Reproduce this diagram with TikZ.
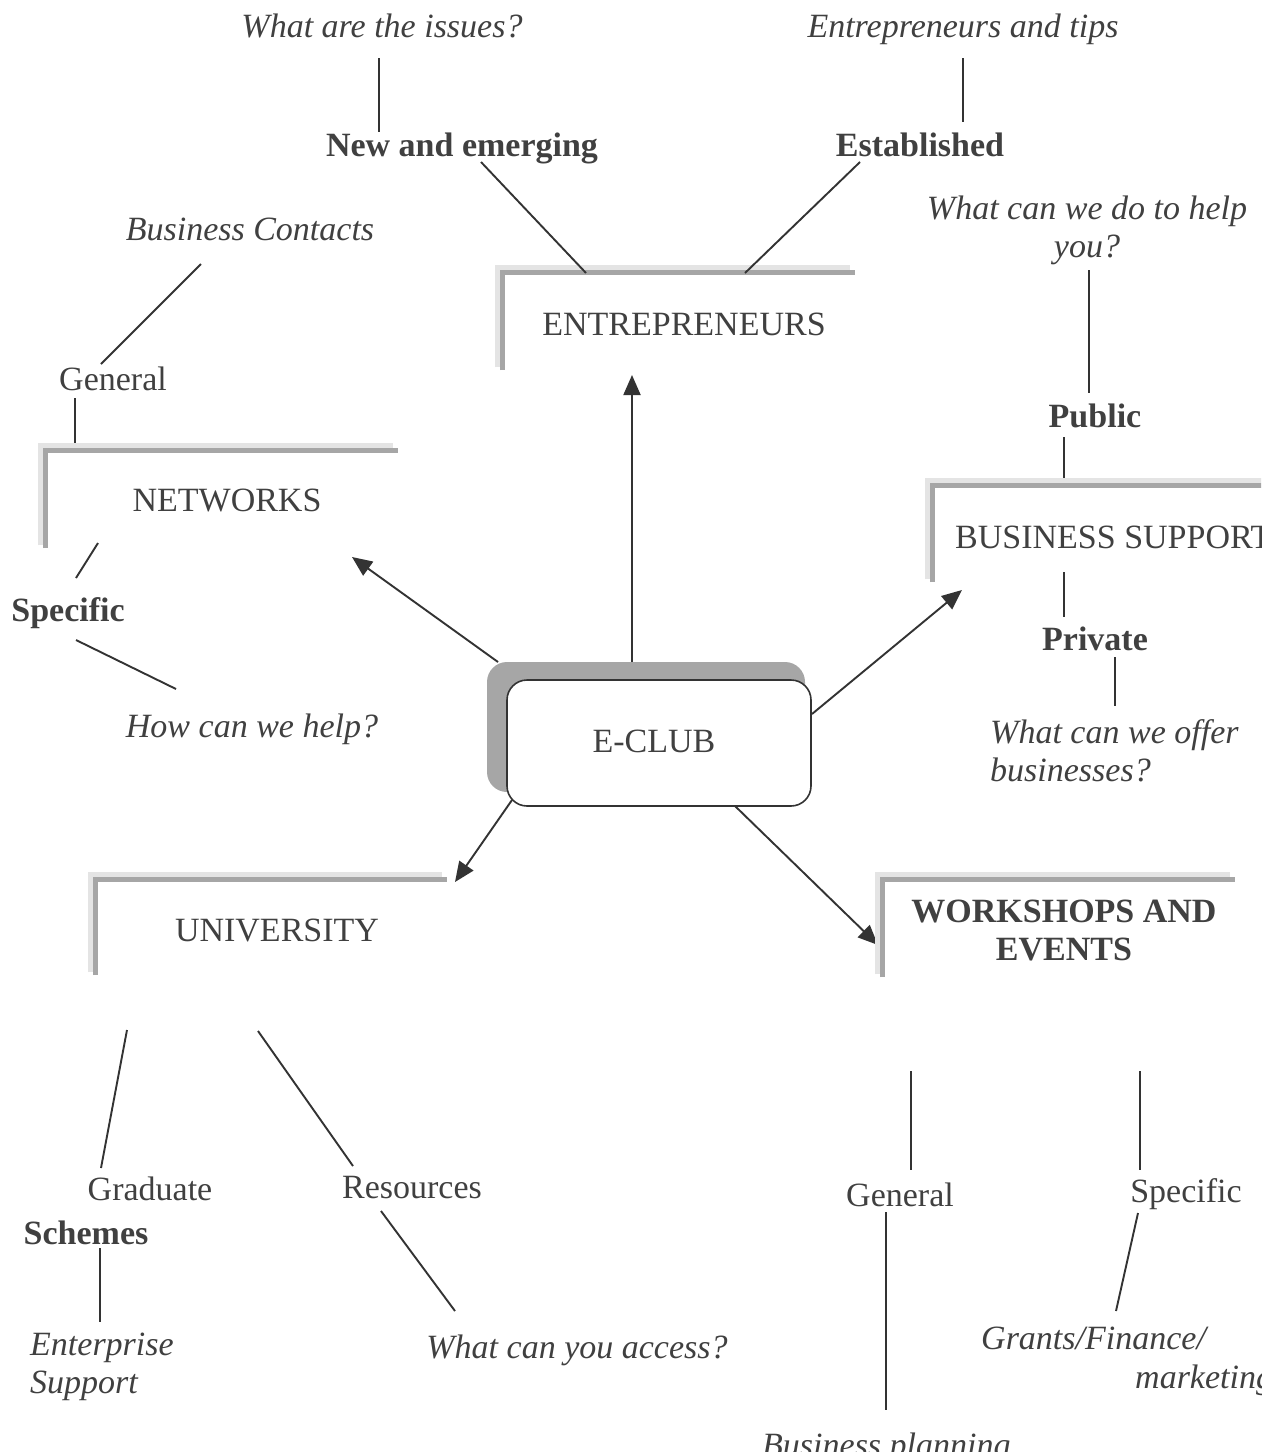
\documentclass[tikz,border=0pt]{standalone}
\usepackage{fontspec}
\setmainfont{Liberation Serif}
\usetikzlibrary{arrows.meta}
\definecolor{txt}{HTML}{404040}
\definecolor{ln}{HTML}{333333}
\definecolor{brk}{HTML}{A6A6A6}
\definecolor{brkl}{HTML}{E4E4E4}
\tikzset{
  lbl/.style={text=txt, inner sep=0pt, font=\fontsize{34}{38}\selectfont, align=center},
  one/.style={text height=26pt, text depth=5pt},
  it/.style={lbl, font=\fontsize{34}{38}\selectfont\itshape},
  bf/.style={lbl, font=\fontsize{34}{38}\selectfont\bfseries},
  conn/.style={draw=ln, line width=1.9pt},
  arr/.style={draw=ln, line width=1.9pt, -{Triangle[length=20pt,width=17pt]}, fill=ln},
}
\newcommand{\brkt}[4]{% x y right bottom
  \draw[brkl, line width=5pt] (#1-5,#4-3) -- (#1-5,#2-5) -- (#3-5,#2-5);
  \draw[brk, line width=5pt] (#1,#4) -- (#1,#2) -- (#3,#2);
}
\begin{document}
\begin{tikzpicture}[x=1pt,y=-1pt]
\useasboundingbox[fill=white] (0,0) rectangle (1273,1452);
\clip (0,0) rectangle (1261,1452);

% ENTREPRENEURS
\node[it,one] (q1) at (382,27) {What are the issues?};
\node[bf,one] (ne) at (462,146) {New and emerging};
\node[it,one] (q2) at (963,27) {Entrepreneurs and tips};
\node[bf,one] (est) at (920,146) {Established};
\draw[conn] (379,58) -- (379,132);
\draw[conn] (963,58) -- (963,122);
\brkt{502.5}{272.5}{855}{370}
\draw[conn] (481,162) -- (586,273);
\draw[conn] (860,162) -- (745,273);
\node[lbl,one] (ent) at (684,325) {ENTREPRENEURS};

% BUSINESS SUPPORT
\node[it] (q3) at (1087,230) {What can we do to help\\you?};
\draw[conn] (1089,270) -- (1089,393);
\node[bf,one] (pub) at (1095,417) {Public};
\draw[conn] (1064,437) -- (1064,487);
\brkt{932.5}{485.5}{1270}{582}
\node[lbl,one, anchor=west] (bs) at (955,538) {BUSINESS SUPPORT};
\draw[conn] (1064,572) -- (1064,617);
\node[bf,one] (priv) at (1095,640) {Private};
\draw[conn] (1115,657) -- (1115,706);
\node[it, anchor=west, align=left] (q4) at (990,751) {What can we offer\\businesses?};

% NETWORKS
\node[it,one] (q5) at (250,230) {Business Contacts};
\draw[conn] (201,264) -- (101,364);
\node[lbl,one] (gen1) at (113,380) {General};
\draw[conn] (75,398) -- (75,450);
\brkt{45.5}{450.5}{398}{548}
\node[lbl,one] (net) at (227,501) {NETWORKS};
\draw[conn] (98,543) -- (76,578);
\node[bf,one] (spec1) at (68,611) {Specific};
\draw[conn] (76,640) -- (176,689);
\node[it,one] (q6) at (252,727) {How can we help?};

% E-CLUB
\fill[brk, rounded corners=20pt] (487,662) rectangle (805,792);
\node[draw=ln, fill=white, line width=1.6pt, rounded corners=20pt,
      minimum width=304pt, minimum height=126pt, inner sep=0pt] (eclub) at (659,743) {};
\node[lbl,one] (eclubt) at (654,742) {E-CLUB};

% arrows
\draw[arr] (632,662) -- (632,375);
\draw[arr] (498,662) -- (352,557);
\draw[arr] (812,714) -- (962,590);
\draw[arr] (512,800) -- (455,882);
\draw[arr] (735,806) -- (878,945);

% UNIVERSITY
\brkt{95.5}{879.5}{447}{975}
\node[lbl,one] (uni) at (277,931) {UNIVERSITY};
\draw[conn] (127,1030) -- (101,1168);
\node[lbl,one] (grad) at (150,1190) {Graduate};
\node[bf,one] (sch) at (86,1234) {Schemes};
\draw[conn] (100,1248) -- (100,1322);
\node[it, anchor=west, align=left] (q7) at (30,1367) {Enterprise\\Support};
\draw[conn] (258,1031) -- (353,1166);
\node[lbl,one] (res) at (412,1188) {Resources};
\draw[conn] (381,1211) -- (455,1311);
\node[it,one] (q8) at (577,1348) {What can you access?};

% WORKSHOPS
\brkt{882.5}{879.5}{1235}{977}
\node[bf] (ws) at (1064,930) {WORKSHOPS AND\\EVENTS};
\draw[conn] (911,1071) -- (911,1170);
\node[lbl,one] (gen2) at (900,1196) {General};
\draw[conn] (886,1212) -- (886,1410);
\node[it,one, anchor=west] (q9) at (762,1446) {Business planning};
\draw[conn] (1140,1071) -- (1140,1170);
\node[lbl,one] (spec2) at (1186,1192) {Specific};
\draw[conn] (1138,1213) -- (1116,1311);
\node[it,one, anchor=west] (q10a) at (981,1339) {Grants/Finance/};
\node[it,one, anchor=west] (q10b) at (1135,1378) {marketing};
\end{tikzpicture}
\end{document}
